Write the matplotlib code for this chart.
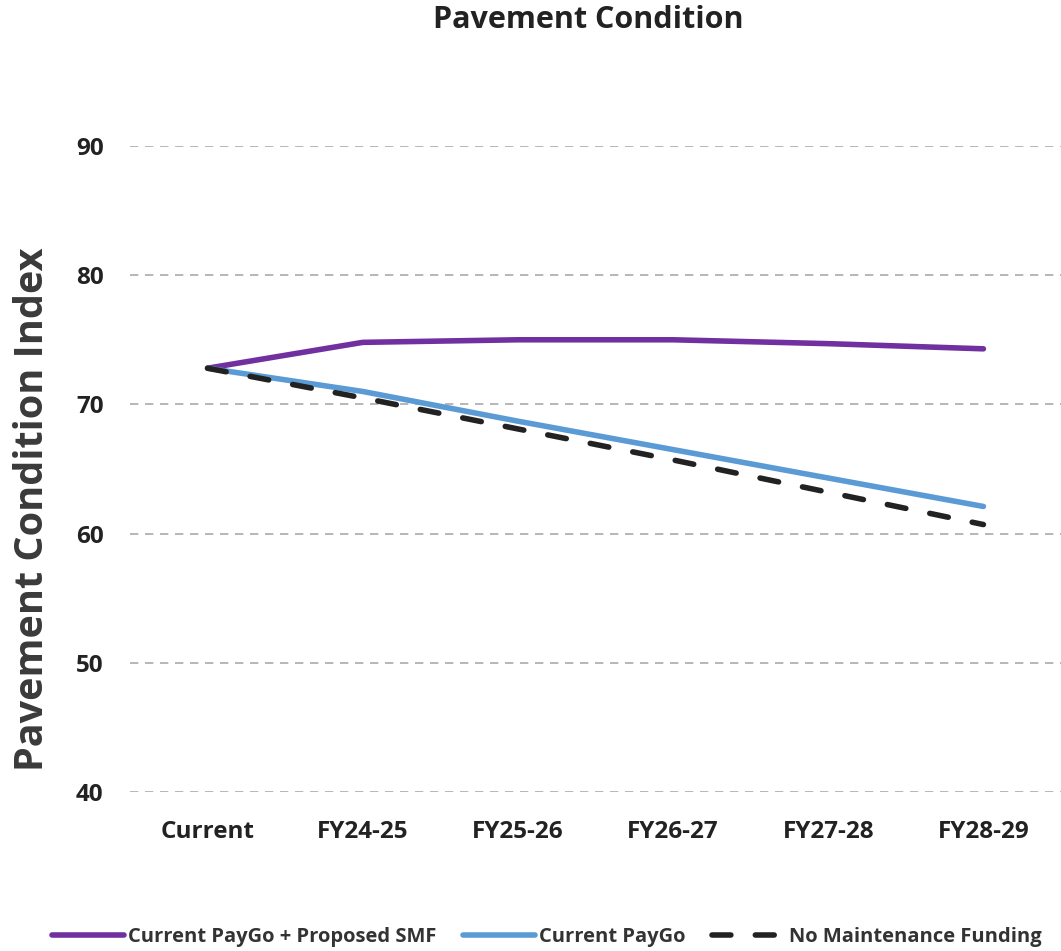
import matplotlib
matplotlib.use("Agg")
import matplotlib.pyplot as plt
import numpy as np

plt.rcParams['font.family'] = ['Open Sans', 'DejaVu Sans']
plt.rcParams['font.weight'] = 'bold'

# data
categories = ["Current", "FY24-25", "FY25-26", "FY26-27", "FY27-28", "FY28-29"]
paygo_smf = [72.8, 74.8, 75.0, 75.0, 74.7, 74.3]
paygo = [72.8, 71.0, 68.7, 66.5, 64.3, 62.1]
no_funding = [72.8, 70.5, 68.1, 65.7, 63.2, 60.7]
yticks = [40, 50, 60, 70, 80, 90]

fig = plt.figure(figsize=(10.61, 9.51), dpi=100)
ax = fig.add_axes([0.1225, 0.1672, 0.8775, 0.6793])

x = np.arange(len(categories))
ax.plot(x, paygo_smf, color="#7030a0", lw=4, solid_capstyle="round",
        label="Current PayGo + Proposed SMF", zorder=3)
ax.plot(x, paygo, color="#5b9bd5", lw=4, solid_capstyle="round",
        label="Current PayGo", zorder=3)
ax.plot(x, no_funding, color="#222222", lw=4, dashes=(3.4, 4.4),
        dash_capstyle="round", label="No Maintenance Funding", zorder=4)

ax.set_xlim(-0.5, 5.5)
ax.set_ylim(40, 90)
ax.set_yticks(yticks)
ax.set_xticks(x)
ax.set_xticklabels(categories)
ax.yaxis.grid(True, color="#aaaaaa", lw=1.2, linestyle=(0, (5, 4)))
ax.set_axisbelow(True)
for s in ax.spines.values():
    s.set_visible(False)
ax.tick_params(length=0, labelsize=17.5, colors="#222222")
ax.tick_params(axis="x", pad=20)
ax.tick_params(axis="y", pad=19)
for t in ax.get_xticklabels() + ax.get_yticklabels():
    t.set_fontweight("bold")

fig.text(0.554, 0.979, "Pavement Condition", ha="center", va="center",
         fontsize=22, fontweight="bold", color="#222222")
fig.text(0.031, 0.464, "Pavement Condition Index", rotation=90, ha="center",
         va="center", fontsize=28.5, fontweight="bold", color="#3a3a3a")

leg = fig.legend(loc="center", bbox_to_anchor=(0.515, 0.015), ncol=3,
                 frameon=False, fontsize=14.5, handlelength=3.6,
                 handletextpad=0.2, columnspacing=1.3)
for t in leg.get_texts():
    t.set_color("#333333")
    t.set_fontweight("bold")

fig.savefig("out.png", dpi=100)
